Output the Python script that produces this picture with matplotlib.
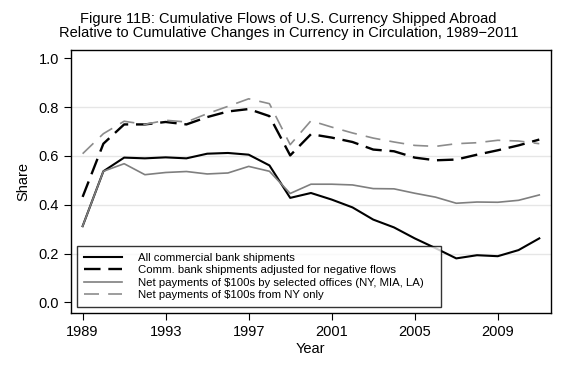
import matplotlib
matplotlib.use("Agg")
import matplotlib.pyplot as plt

plt.rcParams['font.family'] = ['Liberation Sans', 'DejaVu Sans']

years = list(range(1989, 2012))

all_bank = [0.312, 0.537, 0.593, 0.590, 0.594, 0.590, 0.609, 0.612, 0.605, 0.561,
            0.428, 0.448, 0.421, 0.389, 0.339, 0.307, 0.262, 0.222, 0.180, 0.193,
            0.189, 0.214, 0.262]
bank_adj = [0.432, 0.650, 0.729, 0.729, 0.739, 0.729, 0.759, 0.782, 0.792, 0.763,
            0.602, 0.689, 0.675, 0.657, 0.626, 0.619, 0.593, 0.582, 0.585, 0.605,
            0.623, 0.643, 0.667]
net_sel = [0.312, 0.537, 0.568, 0.523, 0.532, 0.536, 0.526, 0.530, 0.557, 0.537,
           0.446, 0.484, 0.484, 0.481, 0.466, 0.465, 0.447, 0.431, 0.406, 0.411,
           0.410, 0.418, 0.440]
net_ny = [0.609, 0.691, 0.742, 0.729, 0.746, 0.739, 0.773, 0.803, 0.834, 0.814,
          0.646, 0.744, 0.718, 0.694, 0.673, 0.657, 0.643, 0.639, 0.650, 0.654,
          0.664, 0.661, 0.650]

labels = ['All commercial bank shipments',
          'Comm. bank shipments adjusted for negative flows',
          'Net payments of $100s by selected offices (NY, MIA, LA)',
          'Net payments of $100s from NY only']

fig = plt.figure(figsize=(5.77, 3.67), dpi=100)
ax = fig.add_axes([71 / 577, 1 - 313.3 / 367, 479.7 / 577, 263.8 / 367])

ax.plot(years, all_bank, color='black', lw=1.5, label=labels[0])
ax.plot(years, bank_adj, color='black', lw=1.7, dashes=(7, 3.3), label=labels[1])
ax.plot(years, net_sel, color='#7f7f7f', lw=1.2, label=labels[2])
ax.plot(years, net_ny, color='#8c8c8c', lw=1.2, dashes=(9, 5.5), label=labels[3])

ax.set_xlim(1988.44, 2011.55)
ax.set_ylim(-0.045, 1.036)
ax.set_xticks([1989, 1993, 1997, 2001, 2005, 2009])
ax.set_yticks([0.0, 0.2, 0.4, 0.6, 0.8, 1.0])
ax.set_yticklabels(['0.0', '0.2', '0.4', '0.6', '0.8', '1.0'])
for y in [0.2, 0.4, 0.6, 0.8]:
    ax.axhline(y, color='#e6e6e6', lw=1.0, zorder=0)
ax.tick_params(labelsize=10.5, length=5, width=0.8, color='black')
for s in ax.spines.values():
    s.set_linewidth(1.0)

ax.set_xlabel('Year', fontsize=10.5, labelpad=2)
ax.set_ylabel('Share', fontsize=10.5, labelpad=6)

fig.text(0.5, 0.966, 'Figure 11B: Cumulative Flows of U.S. Currency Shipped Abroad\n'
         'Relative to Cumulative Changes in Currency in Circulation, 1989\u22122011',
         ha='center', va='top', fontsize=10.5, linespacing=0.95)

leg = ax.legend(loc='lower left', bbox_to_anchor=(0.012, 0.023, 0.759, 0.24),
                mode='expand', fontsize=8.2, frameon=True, fancybox=False,
                handlelength=3.35, handletextpad=1.4, borderpad=0.65,
                labelspacing=0.2, borderaxespad=0)
leg.get_frame().set_edgecolor('black')
leg.get_frame().set_linewidth(1.0)

fig.savefig('out.png', dpi=100)
